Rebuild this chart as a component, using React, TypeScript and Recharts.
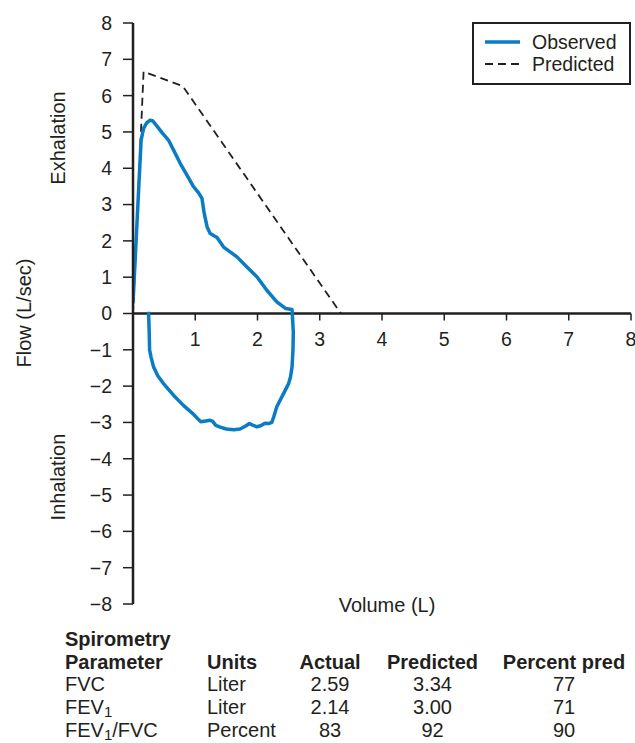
import React from 'react';
import { LineChart, Line, XAxis, YAxis, ReferenceLine, Legend } from 'recharts';

// ---------- data ----------
const observedVolume = [
  0.0, 0.04, 0.13, 0.17, 0.22, 0.27, 0.32, 0.385, 0.466, 0.572, 0.652, 0.76, 0.867, 0.974, 1.054, 1.108,
  1.145, 1.19, 1.24, 1.35, 1.455, 1.67, 1.83, 1.99, 2.15, 2.31, 2.45, 2.555,
  2.575, 2.57, 2.555, 2.53, 2.5, 2.42, 2.31, 2.26, 2.23, 2.18, 2.12, 2.05, 1.99, 1.93, 1.87, 1.81, 1.72,
  1.62, 1.5, 1.4, 1.33, 1.28, 1.24, 1.17, 1.09, 1.04, 0.97, 0.81, 0.65, 0.49, 0.4, 0.33, 0.29, 0.267, 0.26, 0.25,
];
const observedFlow = [
  0.28, 1.66, 4.77, 5.1, 5.25, 5.32, 5.3, 5.16, 4.98, 4.77, 4.5, 4.13, 3.81, 3.49, 3.32, 3.17,
  2.75, 2.39, 2.2, 2.09, 1.83, 1.56, 1.28, 1.01, 0.64, 0.32, 0.14, 0.11,
  -0.5, -1.0, -1.47, -1.75, -1.93, -2.2, -2.57, -2.85, -3.0, -3.03, -3.02, -3.09, -3.12, -3.08, -3.03, -3.1, -3.18,
  -3.2, -3.18, -3.13, -3.08, -2.97, -2.94, -2.96, -2.98, -2.9, -2.77, -2.53, -2.25, -1.93, -1.72, -1.47, -1.2, -1.01, -0.5, 0.05,
];
const predictedVolume = [0.0, 0.17, 0.8, 3.34];
const predictedFlow = [0.0, 6.66, 6.26, 0.0];

const xTicks = [1, 2, 3, 4, 5, 6, 7, 8];
const yTicks = [-8, -7, -6, -5, -4, -3, -2, -1, 0, 1, 2, 3, 4, 5, 6, 7, 8];
const seriesNames = ['Observed', 'Predicted'];

const tableHeadTop = ['Spirometry'];
const tableHead = ['Parameter', 'Units', 'Actual', 'Predicted', 'Percent pred'];
const paramNames = ['FVC', 'FEV1', 'FEV1/FVC'];
const paramUnits = ['Liter', 'Liter', 'Percent'];
const actualValues = ['2.59', '2.14', '83'];
const predictedValues = ['3.34', '3.00', '92'];
const percentPredValues = ['77', '71', '90'];

// ---------- layout / style ----------
const W = 635;
const H = 743;
const X_AXIS_H = 30;
const MARGIN = { top: 23, right: 4, left: 0, bottom: 139 - X_AXIS_H };
const PLOT_H = H - MARGIN.top - MARGIN.bottom - X_AXIS_H;
const ZERO_Y = MARGIN.top + PLOT_H / 2; // flow = 0 sits in the middle of the symmetric domain
const INK = '#231f20';
const BLUE = '#0a7cc4';
const FONT = '"Liberation Sans", Arial, Helvetica, sans-serif';

const observedData = observedVolume.map((x, i) => ({ x, y: observedFlow[i] }));
const predictedData = predictedVolume.map((x, i) => ({ x, y: predictedFlow[i] }));

const minus = (v: number | string) => String(v).replace('-', '\u2212');

function XTick(props: any) {
  const { x, payload } = props;
  const y0 = ZERO_Y;
  return (
    <g>
      <line x1={x} x2={x} y1={y0} y2={y0 + 7} stroke={INK} strokeWidth={1.5} />
      <text x={x} y={y0 + 26} dy="0.355em" textAnchor="middle" fill={INK} fontSize={19.5}>
        {payload.value}
      </text>
    </g>
  );
}

function LegendBox(props: any) {
  const payload = (props.payload || []) as any[];
  return (
    <div
      style={{
        boxSizing: 'border-box',
        width: 159,
        height: 63,
        border: `2px solid ${INK}`,
        background: '#fff',
        paddingTop: 7,
        fontFamily: FONT,
      }}
    >
      {payload.map((entry, i) => {
        const dashed = entry.value === 'Predicted';
        return (
          <div key={i} style={{ display: 'flex', alignItems: 'center', height: 22 }}>
            <svg width={35} height={22} style={{ marginLeft: 11, display: 'block' }}>
              <line
                x1={0}
                x2={35}
                y1={11}
                y2={11}
                stroke={dashed ? INK : BLUE}
                strokeWidth={dashed ? 1.8 : 3.5}
                strokeDasharray={dashed ? '8 5' : undefined}
              />
            </svg>
            <span style={{ marginLeft: 12, fontSize: 19.5, color: INK, lineHeight: '22px' }}>{entry.value}</span>
          </div>
        );
      })}
    </div>
  );
}

function RotLabel({ text, cx, cy }: { text: string; cx: number; cy: number }) {
  return (
    <div
      style={{
        position: 'absolute',
        left: cx,
        top: cy,
        transform: 'translate(-50%, -50%) rotate(-90deg)',
        whiteSpace: 'nowrap',
        fontSize: 20,
        color: INK,
        lineHeight: '22px',
      }}
    >
      {text}
    </div>
  );
}

function renderParam(name: string) {
  const parts = name.split('FEV1');
  const out: React.ReactNode[] = [];
  parts.forEach((p, i) => {
    if (i > 0)
      out.push(
        <span key={'f' + i}>
          FEV
          <span style={{ fontSize: 15, lineHeight: '10px', display: 'inline-block', transform: 'translateY(3px)' }}>
            1
          </span>
        </span>
      );
    if (p) out.push(<span key={'p' + i}>{p}</span>);
  });
  return out;
}

const colLeft = [65, 207];
const colCenter = [330, 432.5, 564];
const ROW0 = 628;
const ROW_H = 22.7;

function Cell({ row, col, children, bold }: { row: number; col: number; children: React.ReactNode; bold?: boolean }) {
  const top = ROW0 + row * ROW_H;
  const style: React.CSSProperties = {
    position: 'absolute',
    top,
    fontSize: 20,
    lineHeight: '22px',
    color: INK,
    whiteSpace: 'nowrap',
    fontWeight: bold ? 700 : 400,
  };
  if (col < 2) {
    style.left = colLeft[col];
  } else {
    style.left = colCenter[col - 2];
    style.transform = 'translateX(-50%)';
  }
  return <div style={style}>{children}</div>;
}

export default function App() {
  return (
    <div
      style={{
        position: 'absolute',
        left: 0,
        top: 0,
        width: W,
        height: H,
        background: '#fff',
        fontFamily: FONT,
      }}
    >
      <LineChart width={W} height={H} margin={MARGIN}>
        <XAxis
          dataKey="x"
          type="number"
          domain={[0, 8]}
          ticks={xTicks}
          interval={0}
          height={X_AXIS_H}
          axisLine={false}
          tickLine={false}
          tick={<XTick />}
          allowDataOverflow
        />
        <YAxis
          dataKey="y"
          type="number"
          domain={[-8, 8]}
          ticks={yTicks}
          interval={0}
          width={133}
          axisLine={{ stroke: INK, strokeWidth: 2.5 }}
          tickLine={{ stroke: INK, strokeWidth: 1.5 }}
          tickSize={10}
          tickMargin={11}
          tick={{ fill: INK, fontSize: 19.5 }}
          tickFormatter={minus}
          allowDataOverflow
        />
        <ReferenceLine y={0} stroke={INK} strokeWidth={2.5} />
        <Line
          data={predictedData}
          dataKey="y"
          name={seriesNames[1]}
          type="linear"
          stroke={INK}
          strokeWidth={1.8}
          strokeDasharray="8 5"
          dot={false}
          activeDot={false}
          isAnimationActive={false}
        />
        <Line
          data={observedData}
          dataKey="y"
          name={seriesNames[0]}
          type="linear"
          stroke={BLUE}
          strokeWidth={3.5}
          strokeLinejoin="round"
          dot={false}
          activeDot={false}
          isAnimationActive={false}
        />
        <Legend
          layout="vertical"
          align="center"
          verticalAlign="middle"
          content={<LegendBox />}
          wrapperStyle={{ position: 'absolute', left: 472, top: 22, width: 159, height: 63 }}
          payload={[
            { value: seriesNames[0], type: 'line', color: BLUE },
            { value: seriesNames[1], type: 'line', color: INK },
          ] as any}
        />
      </LineChart>

      <RotLabel text="Flow (L/sec)" cx={24} cy={313} />
      <RotLabel text="Exhalation" cx={58} cy={138} />
      <RotLabel text="Inhalation" cx={58} cy={477} />
      <div
        style={{
          position: 'absolute',
          left: 387,
          top: 605,
          transform: 'translate(-50%, -50%)',
          fontSize: 20,
          color: INK,
          whiteSpace: 'nowrap',
          lineHeight: '22px',
        }}
      >
        Volume (L)
      </div>

      <Cell row={0} col={0} bold>{tableHeadTop[0]}</Cell>
      {tableHead.map((h, i) => (
        <Cell key={'h' + i} row={1} col={i} bold>{h}</Cell>
      ))}
      {paramNames.map((p, r) => (
        <React.Fragment key={'r' + r}>
          <Cell row={2 + r} col={0}>{renderParam(p)}</Cell>
          <Cell row={2 + r} col={1}>{paramUnits[r]}</Cell>
          <Cell row={2 + r} col={2}>{actualValues[r]}</Cell>
          <Cell row={2 + r} col={3}>{predictedValues[r]}</Cell>
          <Cell row={2 + r} col={4}>{percentPredValues[r]}</Cell>
        </React.Fragment>
      ))}
    </div>
  );
}
